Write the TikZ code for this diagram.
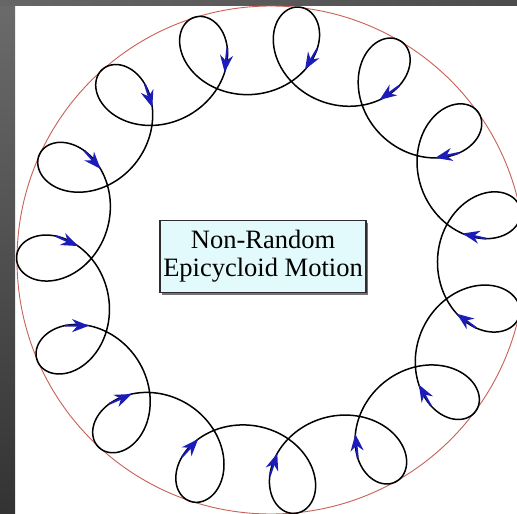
\documentclass[tikz,border=0pt]{standalone}
\usepackage{fontspec}
\setmainfont{Liberation Serif}
\usetikzlibrary{arrows.meta}
\definecolor{rimred}{RGB}{200,96,86}
\definecolor{boxfill}{RGB}{226,250,252}
\definecolor{boxline}{RGB}{45,45,45}
\definecolor{arrowblue}{RGB}{28,28,185}
\tikzset{
  pathline/.style={black, line width=1.5pt, line join=round},
  rim/.style={rimred, line width=0.9pt},
  tipblue/.style={arrowblue, line width=2pt, -{Stealth[length=17pt,width=13pt,inset=5.5pt]}},
  labelbox/.style={draw=boxline, line width=1.5pt, fill=boxfill, minimum width=206pt, minimum height=72pt, inner sep=0pt, align=center, font=\fontsize{26.5pt}{28pt}\selectfont},
}
\begin{document}
\begin{tikzpicture}[x=1pt,y=-1pt]
\useasboundingbox (0,0) rectangle (517,514);
\clip (0,0) rectangle (517,514);
% background and frame
\fill[white] (0,0) rectangle (517,514);
\shade[top color=black!58, bottom color=black!80] (0,0) rectangle (15,514);
\shade[left color=black!60, right color=black!70] (0,0) rectangle (517,5);
% outer circle
\coordinate (c) at (271,260);
\draw[rim] (c) circle[radius=254];
% epicycloid path
\draw[pathline] plot[domain=0:360, samples=1441]
  ({271 + 210.5*cos(\x) + 44*cos(172.5-14*\x)}, {260 - 210.5*sin(\x) - 44*sin(172.5-14*\x)}) -- cycle;
% arrows
\foreach \m in {0,...,14}{
  \pgfmathsetmacro{\ta}{89.4+24*\m}
  \pgfmathsetmacro{\tb}{91.4+24*\m}
  \coordinate (a\m) at ({271 + 210.5*cos(\ta) + 44*cos(172.5-14*\ta)}, {260 - 210.5*sin(\ta) - 44*sin(172.5-14*\ta)});
  \coordinate (b\m) at ({271 + 210.5*cos(\tb) + 44*cos(172.5-14*\tb)}, {260 - 210.5*sin(\tb) - 44*sin(172.5-14*\tb)});
  \draw[tipblue] (a\m) -- (b\m);
}
% label with slight shadow
\fill[black!55] (162,223) rectangle (368,295);
\node[labelbox] (lbl) at (263,256.5) {Non-Random\\Epicycloid Motion};
\end{tikzpicture}
\end{document}
